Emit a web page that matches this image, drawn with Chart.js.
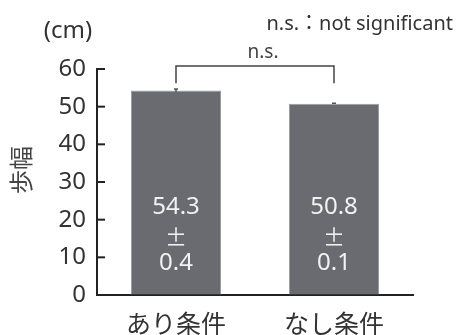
<!DOCTYPE html>
<html lang="ja">
<head>
<meta charset="utf-8">
<script src="https://cdn.jsdelivr.net/npm/chart.js@4"></script>
<style>
  html, body { margin: 0; padding: 0; background: #fff; }
  #wrap { width: 460px; height: 335px; position: relative; }
</style>
</head>
<body>
<div id="wrap"><canvas id="chart"></canvas></div>
<script>
// stride length by condition (mean ± SD, cm)
const conditions = ['あり条件', 'なし条件'];
const strideMean = [54.3, 50.8];
const strideSD = [0.4, 0.1];
const yTicks = [0, 10, 20, 30, 40, 50, 60];
// significance bracket (in cm units)
const bracketTop = 60.8;
const bracketFoot = 56.2;

const JP = "'Noto Sans CJK JP', sans-serif";
const LATIN = "'Noto Sans', 'Noto Sans CJK JP', sans-serif";
const INK = '#333';

// error bars, axis ticks drawn inward, bracket and extra text
const extras = {
  id: 'extras',
  afterDatasetsDraw(chart) {
    const ctx = chart.ctx;
    const y = chart.scales.y;
    const bars = chart.getDatasetMeta(0).data;
    ctx.save();

    // error bars
    ctx.strokeStyle = '#555';
    ctx.lineWidth = 1.5;
    bars.forEach((bar, i) => {
      const hi = y.getPixelForValue(strideMean[i] + strideSD[i]);
      const lo = y.getPixelForValue(strideMean[i] - strideSD[i]);
      ctx.beginPath();
      ctx.moveTo(bar.x, lo); ctx.lineTo(bar.x, hi);
      ctx.moveTo(bar.x - 2, hi); ctx.lineTo(bar.x + 2, hi);
      ctx.stroke();
    });

    // y ticks pointing into the plot
    ctx.strokeStyle = '#222';
    ctx.lineWidth = 2;
    yTicks.forEach(v => {
      const py = y.getPixelForValue(v);
      ctx.beginPath();
      ctx.moveTo(chart.chartArea.left, py);
      ctx.lineTo(chart.chartArea.left + 8, py);
      ctx.stroke();
    });

    // values written inside the bars
    ctx.fillStyle = '#f2f2f2';
    ctx.textAlign = 'center';
    ctx.textBaseline = 'middle';
    bars.forEach((bar, i) => {
      ctx.font = '24px ' + LATIN;
      ctx.fillText(strideMean[i].toFixed(1), bar.x, bar.base - 87);
      ctx.font = '22px ' + JP;
      ctx.fillText('±', bar.x, bar.base - 58);
      ctx.font = '24px ' + LATIN;
      ctx.fillText(strideSD[i].toFixed(1), bar.x, bar.base - 31);
    });

    // bracket between the two conditions
    const x0 = bars[0].x, x1 = bars[1].x;
    const top = y.getPixelForValue(bracketTop);
    const foot = y.getPixelForValue(bracketFoot);
    ctx.strokeStyle = '#444';
    ctx.lineWidth = 1.5;
    ctx.beginPath();
    ctx.moveTo(x0, foot); ctx.lineTo(x0, top);
    ctx.lineTo(x1, top); ctx.lineTo(x1, foot);
    ctx.stroke();

    ctx.fillStyle = '#444';
    ctx.font = '19px ' + LATIN;
    ctx.fillText('n.s.', (x0 + x1) / 2 + 8, top - 13);

    // unit and note
    ctx.fillStyle = INK;
    ctx.font = '24px ' + LATIN;
    ctx.fillText('(cm)', 68, 31);
    ctx.font = '20px ' + LATIN;
    ctx.textAlign = 'right';
    ctx.fillText('n.s.：not significant', 453, 24);

    // axis name, rotated
    ctx.fillStyle = '#444';
    ctx.font = '24px ' + JP;
    ctx.translate(21, 170);
    ctx.rotate(-Math.PI / 2);
    ctx.textAlign = 'center';
    ctx.fillText('歩幅', 0, 0);

    ctx.restore();
  }
};

new Chart(document.getElementById('chart'), {
  type: 'bar',
  data: {
    labels: conditions,
    datasets: [{
      data: strideMean,
      backgroundColor: '#6a6b70',
      borderColor: '#9c9da0',
      borderWidth: 1,
      barPercentage: 0.57,
      categoryPercentage: 1
    }]
  },
  options: {
    responsive: true,
    maintainAspectRatio: false,
    animation: false,
    layout: { padding: { top: 69, left: 8, right: 47, bottom: 0 } },
    plugins: { legend: { display: false }, tooltip: { enabled: false } },
    scales: {
      x: {
        grid: { display: false, drawTicks: false },
        border: { display: true, color: '#222', width: 2 },
        ticks: { color: INK, font: { family: JP, size: 25 }, padding: 13 },
        afterFit(scale) { scale.height = 40; }
      },
      y: {
        min: 0,
        max: 60,
        afterBuildTicks(scale) { scale.ticks = yTicks.map(v => ({ value: v })); },
        grid: { display: true, drawOnChartArea: false, drawTicks: false },
        border: { display: true, color: '#222', width: 2 },
        ticks: { color: INK, font: { family: LATIN, size: 24 }, padding: 11 },
        afterFit(scale) { scale.width = 89; }
      }
    }
  },
  plugins: [extras]
});
</script>
</body>
</html>
